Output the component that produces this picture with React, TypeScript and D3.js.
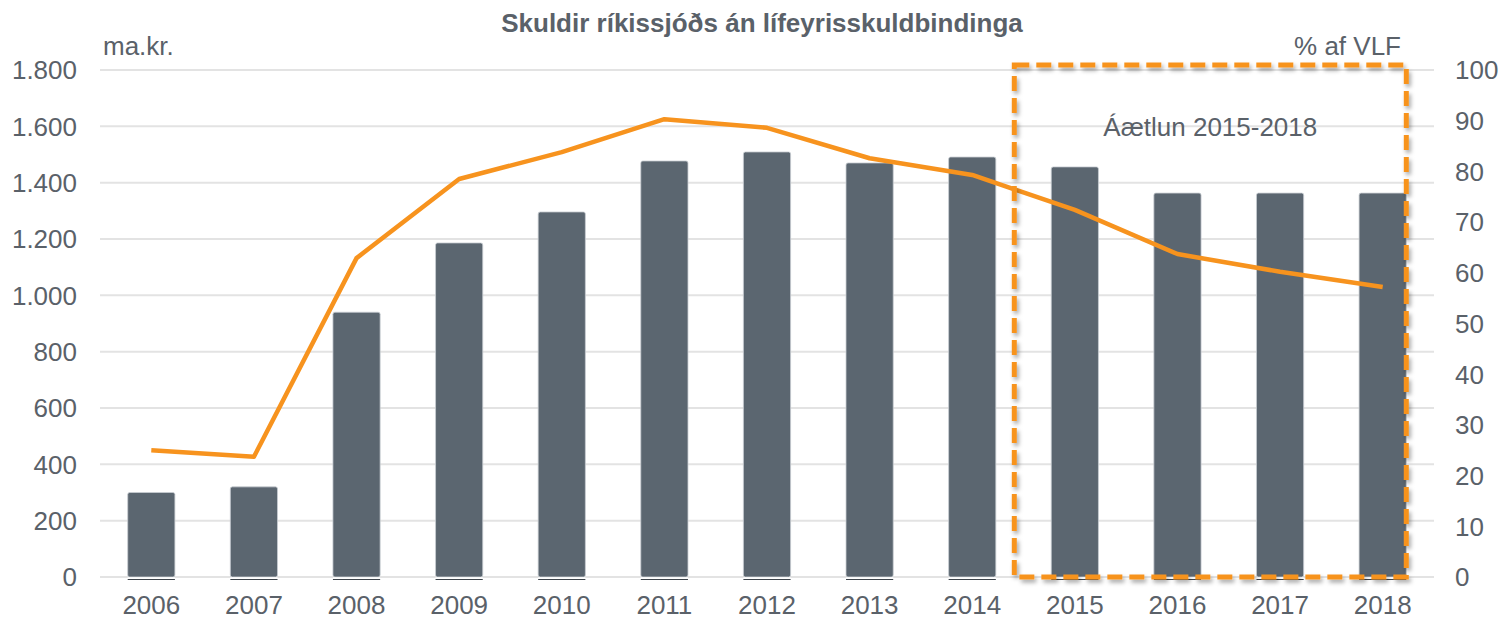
import React from "react";
import * as d3 from "d3";

const years = ["2006","2007","2008","2009","2010","2011","2012","2013","2014","2015","2016","2017","2018"];
const debt = [300, 320, 940, 1186, 1296, 1477, 1509, 1470, 1491, 1456, 1363, 1363, 1363];
const pctGdp = [25.0, 23.7, 62.9, 78.5, 83.8, 90.3, 88.6, 82.6, 79.3, 72.4, 63.7, 60.2, 57.2];
const leftTicks = [0, 200, 400, 600, 800, 1000, 1200, 1400, 1600, 1800];
const rightTicks = [0, 10, 20, 30, 40, 50, 60, 70, 80, 90, 100];
const forecastYears = ["2015", "2018"];

const W = 1503, H = 620;
const M = { left: 100, right: 1434, top: 70, bottom: 577 };
const FONT = "'Liberation Sans', Arial, sans-serif";
const TXT = "#5a6169";

export default function App() {
  const x = d3.scaleBand<string>().domain(years).range([M.left, M.right]).paddingInner(0.54).paddingOuter(0.27);
  const yL = d3.scaleLinear().domain([0, 1800]).range([M.bottom, M.top]);
  const yR = d3.scaleLinear().domain([0, 100]).range([M.bottom, M.top]);
  const bw = x.bandwidth();
  const cx = (y: string) => (x(y) as number) + bw / 2;
  const line = d3.line<number>().x((_, i) => cx(years[i])).y((d) => yR(d));
  const step = x.step();
  const boxL = cx(forecastYears[0]) - step * 0.59;
  const boxR = (x(forecastYears[1]) as number) + bw;
  const boxT = yR(101);
  const boxB = yR(0);

  return (
    <svg width={W} height={H} style={{ position: "absolute", left: 0, top: 0 }} fontFamily={FONT}>
      <defs>
        <filter id="sh" x="-10%" y="-10%" width="120%" height="120%">
          <feDropShadow dx="2" dy="3" stdDeviation="2" floodColor="#000" floodOpacity="0.35" />
        </filter>
      </defs>
      <rect width={W} height={H} fill="#fff" />
      {leftTicks.map((t) => (
        <line key={t} x1={M.left} x2={M.right} y1={yL(t)} y2={yL(t)} stroke="#e3e3e3" strokeWidth={2} />
      ))}
      {leftTicks.map((t) => (
        <text key={t} x={77} y={yL(t)} dy="0.36em" textAnchor="end" fontSize={26} fill={TXT}>
          {d3.format(",")(t).replace(/,/g, ".")}
        </text>
      ))}
      {rightTicks.map((t) => (
        <text key={t} x={1455} y={yR(t)} dy="0.36em" textAnchor="start" fontSize={26} fill={TXT}>
          {t}
        </text>
      ))}
      {years.map((y, i) => (
        <g key={y}>
          <rect x={x(y)} y={yL(debt[i])} width={bw} height={yL(0) - yL(debt[i])} fill="#5b6670" stroke="#c9ced3" strokeWidth={0.8} rx={2} />
          <line x1={x(y)} x2={(x(y) as number) + bw} y1={yL(0) + 1} y2={yL(0) + 1} stroke="#fff" strokeWidth={1.5} />
          <line x1={x(y)} x2={(x(y) as number) + bw} y1={yL(0) + 2.5} y2={yL(0) + 2.5} stroke="#3d444b" strokeWidth={1.2} />
        </g>
      ))}
      {years.map((y) => (
        <text key={y} x={cx(y)} y={614} textAnchor="middle" fontSize={26} fill={TXT}>{y}</text>
      ))}
      <path d={line(pctGdp) || ""} fill="none" stroke="#f7931e" strokeWidth={4.5} strokeLinejoin="round" />
      <rect x={boxL} y={boxT} width={boxR - boxL} height={boxB - boxT} fill="none" stroke="#f7931e" strokeWidth={5} strokeDasharray="15 7" filter="url(#sh)" />
      <text x={(boxL + boxR) / 2} y={136} textAnchor="middle" fontSize={26} fill={TXT}>Áætlun 2015-2018</text>
      <text x={103} y={55} fontSize={26} fill={TXT}>ma.kr.</text>
      <text x={1401} y={55} textAnchor="end" fontSize={26} fill={TXT}>% af VLF</text>
      <text x={762} y={32} textAnchor="middle" fontSize={26} fontWeight="bold" fill={TXT}>Skuldir ríkissjóðs án lífeyrisskuldbindinga</text>
    </svg>
  );
}
